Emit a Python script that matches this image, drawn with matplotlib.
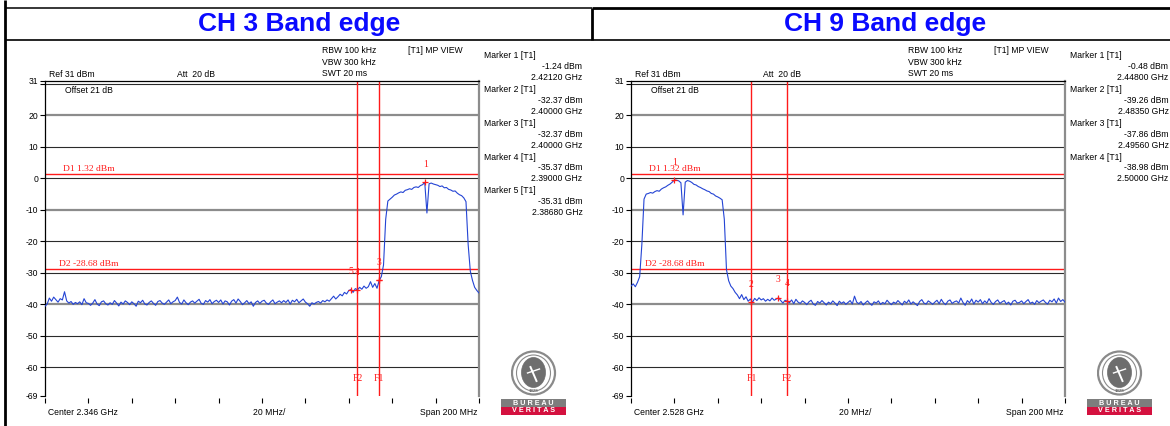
import numpy as np
import matplotlib
matplotlib.use("Agg")
import matplotlib.pyplot as plt
from matplotlib.lines import Line2D
from matplotlib.patches import Rectangle, Ellipse

# ---------------- data ----------------
ch3_title = "CH 3 Band edge"
ch9_title = "CH 9 Band edge"
ch3_center = "Center 2.346 GHz"
ch9_center = "Center 2.528 GHz"
ch3_start, ch3_stop = 2.246, 2.446
ch9_start, ch9_stop = 2.428, 2.628

ch3_level = [
    -40.6, -39.9, -38.0, -39.0, -37.7, -38.5, -39.3, -38.2, -38.6, -36.0,
    -38.9, -39.6, -39.1, -40.0, -39.4, -39.8, -39.2, -40.1, -38.2, -39.5,
    -39.7, -40.3, -39.6, -38.5, -39.9, -40.4, -39.2, -38.9, -39.8, -40.2,
    -39.5, -40.0, -38.8, -39.6, -40.5, -39.3, -39.9, -38.9, -39.4, -40.1,
    -39.2, -39.8, -40.6, -39.0, -39.5, -38.7, -39.9, -40.2, -39.4, -38.9,
    -39.7, -40.3, -39.1, -38.8, -39.6, -40.0, -39.3, -38.6, -39.8, -39.2,
    -38.8, -37.7, -39.4, -39.9, -38.6, -39.5, -40.1, -39.3, -38.9, -39.6,
    -39.0, -38.4, -39.7, -40.0, -38.8, -39.3, -38.5, -39.8, -39.1, -38.7,
    -39.4, -38.6, -39.9, -38.9, -39.2, -40.2, -39.0, -38.5, -39.6, -38.3,
    -39.1, -40.1, -39.5, -38.8, -39.8, -39.2, -40.6, -39.4, -38.9, -39.7,
    -39.0, -38.7, -39.6, -40.0, -39.2, -38.6, -39.8, -39.3, -38.9, -39.5,
    -38.8, -39.4, -38.6, -39.9, -38.7, -39.2, -38.4, -39.5, -38.9, -38.3,
    -39.3, -39.8, -40.6, -39.5, -39.9, -39.4, -39.1, -39.6, -38.8, -39.2,
    -38.6, -39.0, -38.2, -37.4, -38.3, -37.6, -36.8, -37.3, -36.2, -36.7,
    -35.6, -35.3, -36.2, -35.0, -35.4, -34.6, -35.2, -34.2, -34.9, -34.4,
    -32.8, -34.6, -33.4, -34.9, -32.4, -31.2, -27.5, -13.0, -7.2, -6.6,
    -6.0, -5.3, -5.0, -4.6, -4.3, -4.5, -3.8, -3.6, -3.3, -3.5,
    -2.9, -2.7, -2.9, -2.3, -2.0, -1.3, -11.0, -1.7, -1.5, -1.8,
    -2.0, -2.2, -2.6, -2.4, -3.0, -2.9, -3.5, -3.7, -4.1, -4.0,
    -4.7, -5.2, -5.5, -6.2, -7.4, -21.0, -29.5, -32.4, -34.6, -35.6,
    -36.4,
]

ch9_level = [
    -34.2, -33.5, -34.4, -33.0, -31.2, -21.0, -6.6, -5.0, -4.8, -4.5,
    -4.7, -4.2, -3.9, -4.1, -3.4, -3.0, -2.7, -2.2, -1.8, -1.2,
    -0.5, -0.6, -0.8, -1.4, -11.6, -1.2, -0.7, -0.9, -1.3, -1.9,
    -2.1, -2.6, -2.9, -3.3, -3.6, -4.0, -4.2, -4.8, -5.0, -5.6,
    -5.9, -6.3, -6.8, -13.0, -29.0, -32.5, -34.2, -35.0, -36.2, -37.0,
    -38.2, -36.9, -38.5, -37.6, -39.0, -38.3, -39.3, -38.1, -38.8, -37.9,
    -38.6, -38.2, -39.0, -38.4, -38.9, -38.0, -38.7, -38.3, -37.9, -38.8,
    -39.6, -38.7, -39.0, -39.5, -38.6, -39.8, -38.4, -39.3, -39.7, -38.9,
    -39.4, -40.1, -39.2, -38.7, -39.9, -40.3, -39.1, -39.6, -38.8, -39.5,
    -40.2, -39.3, -39.8, -38.9, -39.6, -40.4, -39.0, -39.7, -39.2, -40.0,
    -39.4, -38.8, -39.9, -37.4, -39.3, -39.8, -39.1, -40.2, -39.5, -38.9,
    -39.7, -40.3, -39.2, -39.6, -38.9, -40.0, -39.4, -39.8, -38.7, -39.5,
    -40.1, -39.3, -39.7, -38.8, -39.5, -40.2, -39.0, -39.6, -38.6, -39.9,
    -39.2, -39.8, -40.4, -39.1, -38.5, -39.6, -39.9, -38.9, -39.4, -40.0,
    -39.3, -38.7, -39.8, -38.4, -39.5, -40.1, -39.0, -38.6, -39.7, -39.2,
    -38.9, -39.6, -38.0, -39.4, -40.3, -38.8, -39.5, -38.3, -39.9, -38.7,
    -39.3, -38.5, -39.8, -38.9, -39.6, -38.2, -39.4, -40.0, -39.1, -38.6,
    -39.7, -39.2, -38.8, -39.9, -39.3, -40.2, -39.0, -38.7, -39.6, -39.4,
    -38.9, -39.8, -39.1, -38.5, -39.7, -39.3, -40.0, -38.8, -39.5, -39.0,
    -38.6, -39.4, -39.9, -38.7, -39.2, -38.3, -39.6, -38.0, -39.1, -38.5,
    -39.3,
]

ch3_marker_freq = [2.4212, 2.4000, 2.4000, 2.3900, 2.3868]
ch3_marker_level = [-1.24, -32.37, -32.37, -35.37, -35.31]
ch3_marker_label = ["1", "", "3", "4", "5"]
ch9_marker_freq = [2.4480, 2.4835, 2.4956, 2.5000]
ch9_marker_level = [-0.48, -39.26, -37.86, -38.98]
ch9_marker_label = ["1", "2", "3", "4"]

d1_level = 1.32
d2_level = -28.68
ch3_f_lines = {"F1": 2.400, "F2": 2.390}
ch9_f_lines = {"F1": 2.4835, "F2": 2.500}

y_ticks = [31, 30, 20, 10, 0, -10, -20, -30, -40, -50, -60, -69]
y_tick_labels = ["31", "", "20", "10", "0", "-10", "-20", "-30", "-40", "-50", "-60", "-69"]
grid_dark = [30, 10, 0, -20, -30, -50, -60]
grid_gray = [20, -10, -40]

# ---------------- layout helpers ----------------
W, H = 1170, 426
fig = plt.figure(figsize=(W / 100, H / 100), dpi=100)
SANS = "Liberation Sans"
SERIF = "Liberation Serif"
RED = "#ff1a1a"
BLUE = "#2444d4"
FS = 6.2


def fx(x):
    return x / W


def fy(y):
    return 1 - y / H


def ftext(x, y, s, ha="left", **kw):
    kw.setdefault("fontsize", FS)
    kw.setdefault("family", SANS)
    kw.setdefault("color", "black")
    fig.text(fx(x), fy(y), s, ha=ha, va="center", **kw)


def fline(xs, ys, lw, color="black"):
    fig.add_artist(Line2D([fx(v) for v in xs], [fy(v) for v in ys], lw=lw,
                          color=color, transform=fig.transFigure, solid_capstyle="butt"))


# frame of the header table
fline([5, 592], [8, 8], 1.1)
fline([592, 1170], [8, 8], 2.0)
fline([5, 1170], [39.5, 39.5], 1.2)
fline([5, 5], [0, 426], 2.0)
fline([591.5, 591.5], [8, 40], 2.0)


def logo(off):
    cx, cy = 533.5 + off, 373
    lax = fig.add_axes([fx(cx - 23), fy(cy + 23), 46 / W, 46 / H])
    lax.set_xlim(-23, 23)
    lax.set_ylim(-23, 23)
    lax.axis("off")
    lax.add_patch(Ellipse((0, 0), 43, 43, fc="white", ec="#8a8a8a", lw=1.6))
    lax.add_patch(Ellipse((0, 0), 34, 36, fc="white", ec="#8a8a8a", lw=0.8))
    lax.add_patch(Ellipse((0, 0.5), 24, 30, fc="#6e6e6e", ec="#6e6e6e", lw=0.5))
    lax.plot([-3, 3], [6, -8], color="white", lw=1.4)
    lax.plot([-6, 6], [0, 4], color="white", lw=1.0)
    lax.text(0, -17.5, "1828", ha="center", va="center", fontsize=3.2,
             color="#6e6e6e", family=SANS, fontweight="bold")
    bx0, bx1 = 501 + off, 565.7 + off
    fig.add_artist(Rectangle((fx(bx0), fy(406.7)), (bx1 - bx0) / W, 7.4 / H,
                             transform=fig.transFigure, fc="#7d7d7d", ec="none"))
    fig.add_artist(Rectangle((fx(bx0), fy(415.2)), (bx1 - bx0) / W, 8.3 / H,
                             transform=fig.transFigure, fc="#d4113f", ec="none"))
    ftext((bx0 + bx1) / 2, 403.1, "B U R E A U", ha="center", fontsize=5.2,
          color="white", fontweight="bold")
    ftext((bx0 + bx1) / 2, 411.0, "V E R I T A S", ha="center", fontsize=5.2,
          color="white", fontweight="bold")


def panel(off, title, center, start, stop, level, mfreq, mlevel, mlabel, flines):
    b = 45 + off  # left edge of the plot area in pixels
    ftext(253.8 + b, 23.5, title, ha="center", fontsize=19, fontweight="bold",
          color="#0a0aff")
    ax = fig.add_axes([fx(b), fy(395.7), 434 / W, 315 / H])
    ax.set_xlim(start, stop)
    ax.set_ylim(-69, 31)
    for v in grid_dark:
        ax.axhline(v, color="#2b2b2b", lw=0.8, zorder=1)
    for v in grid_gray:
        ax.axhline(v, color="#8c8c8c", lw=1.6, zorder=1)
    ax.axhline(d1_level, color=RED, lw=1.0, zorder=2)
    ax.axhline(d2_level, color=RED, lw=1.0, zorder=2)
    for name, f in flines.items():
        ax.axvline(f, color=RED, lw=1.0, zorder=2)
        ax.text(f, -63.5, name, ha="center", va="center", color=RED,
                fontsize=7, family=SERIF)
    freq = np.linspace(start, stop, len(level))
    ax.plot(freq, level, color=BLUE, lw=0.8, zorder=3)
    ax.plot(mfreq, mlevel, ls="none", marker="+", ms=5, mew=0.9, color=RED, zorder=4)
    for f, v, lab in zip(mfreq, mlevel, mlabel):
        if lab:
            ax.text(f, v + 5.6, lab, ha="center", va="center", color=RED,
                    fontsize=7, family=SERIF, zorder=5)
    ax.text(start + 0.0083, d1_level + 1.6, "D1 1.32 dBm", color=RED, fontsize=6.8,
            family=SERIF, va="center", ha="left")
    ax.text(start + 0.0065, d2_level + 1.5, "D2 -28.68 dBm", color=RED, fontsize=6.8,
            family=SERIF, va="center", ha="left")
    # spines & ticks
    ax.spines["top"].set_color("black")
    ax.spines["top"].set_linewidth(0.9)
    ax.spines["left"].set_color("black")
    ax.spines["left"].set_linewidth(0.9)
    ax.spines["right"].set_color("#8c8c8c")
    ax.spines["right"].set_linewidth(1.6)
    ax.spines["bottom"].set_position(("outward", 2.0))
    ax.spines["bottom"].set_color("none")
    ax.set_yticks(y_ticks)
    ax.set_yticklabels(y_tick_labels, fontsize=FS, family=SANS)
    ax.tick_params(axis="y", direction="out", length=3.5, width=0.8, pad=1.2,
                   color="black")
    ax.set_xticks(np.linspace(start, stop, 11))
    ax.set_xticklabels([])
    ax.tick_params(axis="x", direction="out", length=3.8, width=0.8, color="black")
    ax.set_facecolor("white")
    # header texts
    ftext(277 + b, 50.7, "RBW 100 kHz")
    ftext(277 + b, 62.7, "VBW 300 kHz")
    ftext(277 + b, 73.8, "SWT 20 ms")
    ftext(363 + b, 50.7, "[T1] MP VIEW")
    ftext(3.6 + b, 74.5, "Ref 31 dBm")
    ftext(132 + b, 74.5, "Att  20 dB")
    ftext(20 + b, 90.7, "Offset 21 dB")
    for k, (f, v) in enumerate(zip(mfreq, mlevel)):
        y0 = 55.7 + 33.8 * k
        ftext(439 + b, y0, f"Marker {k + 1} [T1]")
        ftext(537.5 + b, y0 + 10.9, f"{v:.2f} dBm", ha="right")
        ftext(537.5 + b, y0 + 21.8, f"{f:.5f} GHz", ha="right")
    # footer texts
    ftext(3.3 + b, 412.7, center)
    ftext(208 + b, 412.7, "20 MHz/")
    ftext(432.3 + b, 412.7, "Span 200 MHz", ha="right")
    logo(off)


panel(0, ch3_title, ch3_center, ch3_start, ch3_stop, ch3_level,
      ch3_marker_freq, ch3_marker_level, ch3_marker_label, ch3_f_lines)
panel(586, ch9_title, ch9_center, ch9_start, ch9_stop, ch9_level,
      ch9_marker_freq, ch9_marker_level, ch9_marker_label, ch9_f_lines)

fig.savefig("out.png", dpi=100, facecolor="white")
